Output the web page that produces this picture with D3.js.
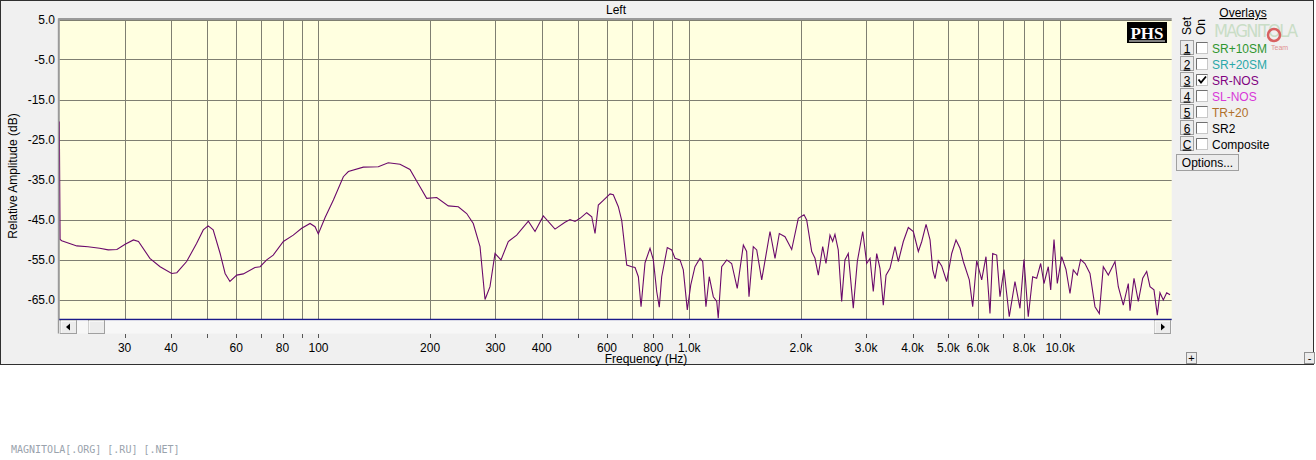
<!DOCTYPE html>
<html><head><meta charset="utf-8">
<script src="https://cdn.jsdelivr.net/npm/d3@7"></script>
<style>
html,body{margin:0;padding:0;background:#fff;}
svg{display:block;font-family:"Liberation Sans",Arial,sans-serif;}
</style></head>
<body>
<svg id="c" width="1316" height="460"></svg>
<script>
// ---------- data ----------
const freqHz = [20,20.1,20.3,22.3,23.9,25.7,27.1,28.6,30.1,31.7,32.7,35.1,37.4,40.2,41.5,44.1,46.9,48.9,50.4,52.0,54.3,56.0,57.7,60.2,62.7,67.4,69.6,72.5,75.5,80.4,85.5,90.1,94.9,97.9,99.9,104.2,109.7,116.7,120.4,132.1,145.0,154.2,165.9,176.5,187.8,195.8,208.4,223.9,238.3,251.0,261.5,272.7,281.3,290.1,299.3,310.6,325.0,342.4,368.1,383.7,404.0,434.4,462.2,476.8,491.9,507.4,529.0,545.8,557.0,568.5,586.4,611.4,623.9,643.7,657.5,678.2,699.6,714.1,728.9,741.2,759.8,783.7,799.9,816.9,830.1,842.6,872.4,896.6,915.2,944.1,963.6,987.8,1009,1036,1069,1087,1109,1132,1161,1186,1197,1223,1262,1301,1347,1399,1428,1449,1488,1520,1568,1651,1703,1749,1812,1889,1968,2039,2073,2139,2183,2228,2290,2337,2396,2436,2471,2522,2576,2629,2684,2769,2839,2936,3010,3072,3135,3202,3268,3336,3393,3478,3588,3662,3778,3897,4020,4147,4236,4351,4460,4535,4600,4694,4794,4946,5102,5240,5372,5483,5691,5812,5958,6146,6312,6471,6580,6746,6886,7058,7294,7557,7795,7991,8207,8435,8647,8865,9049,9294,9434,9630,9829,10101,10374,10634,10854,11127,11364,11672,12040,12421,12758,13079,13492,14065,14356,14808,15276,15438,15826,16254,16704,17124,17478,17917,18289,18598,18983,19388,19790];
const srNosDb = [-20.5,-50.0,-50.3,-51.6,-51.8,-52.2,-52.6,-52.5,-51.2,-50.1,-50.5,-54.7,-56.8,-58.5,-58.3,-55.5,-51.0,-47.6,-46.6,-47.6,-53.5,-58.5,-60.5,-58.9,-58.6,-57.0,-56.8,-55.1,-53.9,-50.5,-48.9,-47.2,-46.0,-46.8,-48.6,-44.5,-40.1,-34.3,-33.0,-31.9,-31.8,-30.8,-31.2,-32.5,-36.8,-39.7,-39.5,-41.6,-41.8,-43.5,-46.0,-51.8,-65.0,-61.8,-53.5,-55.1,-50.5,-48.9,-45.4,-48.0,-44.1,-47.4,-45.7,-45.0,-45.5,-44.7,-43.3,-44.3,-48.5,-41.4,-40.2,-38.6,-38.8,-41.8,-45.3,-56.4,-56.8,-57.0,-59.3,-66.8,-55.8,-52.2,-55.1,-63.0,-66.9,-59.3,-52.0,-52.6,-54.7,-55.1,-57.6,-67.6,-61.4,-56.8,-54.7,-55.5,-66.8,-59.3,-64.3,-65.5,-69.7,-56.8,-55.1,-56.0,-62.2,-51.4,-53.0,-64.3,-51.8,-52.6,-60.1,-48.0,-54.7,-48.5,-49.3,-52.5,-44.7,-43.8,-45.1,-53.0,-54.7,-58.9,-51.8,-56.0,-48.9,-50.5,-48.7,-52.6,-65.5,-55.1,-53.5,-67.2,-55.5,-48.0,-56.0,-54.7,-63.0,-53.5,-57.2,-66.4,-58.9,-57.2,-51.8,-55.5,-50.5,-47.0,-48.0,-53.0,-50.5,-46.2,-50.1,-57.6,-59.8,-55.3,-56.6,-60.5,-53.5,-50.1,-52.2,-55.5,-60.1,-66.8,-55.3,-60.1,-54.3,-68.5,-53.5,-53.9,-64.3,-57.5,-69.3,-60.5,-67.2,-55.0,-69.3,-59.3,-59.7,-56.0,-61.0,-56.8,-62.6,-50.0,-61.0,-54.3,-57.5,-63.5,-57.6,-58.9,-55.0,-56.0,-58.5,-66.8,-68.5,-56.8,-58.9,-55.5,-61.8,-66.4,-61.0,-67.8,-59.7,-65.5,-59.7,-58.0,-61.8,-62.6,-68.9,-63.3,-65.1,-63.3,-63.8];
const yTicks = [5,-5,-15,-25,-35,-45,-55,-65];
const xGrid = [30,40,50,60,70,80,90,100,200,300,400,500,600,700,800,900,1000,2000,3000,4000,5000,6000,7000,8000,9000,10000];
const xTickValues = [30,40,60,80,100,200,300,400,600,800,1000,2000,3000,4000,5000,6000,8000,10000];
const xTickLabels = ["30","40","60","80","100","200","300","400","600","800","1.0k","2.0k","3.0k","4.0k","5.0k","6.0k","8.0k","10.0k"];
const overlayNames = ["SR+10SM","SR+20SM","SR-NOS","SL-NOS","TR+20","SR2","Composite"];
const overlayKeys = ["1","2","3","4","5","6","C"];
const overlayColors = ["#2f962f","#2aa8a8","#800080","#d838d8","#b0702c","#000000","#000000"];
const overlayOn = [false,false,true,false,false,false,false];

// ---------- layout ----------
const svg = d3.select("#c");
const L = 59.3, R = 1171.7, T = 19.5, B = 319.5;
const x = d3.scaleLog().domain([20,20000]).range([L,R]);
const y = d3.scaleLinear().domain([-70,5]).range([B,T]);

// window panel
svg.append("rect").attr("x",0.5).attr("y",0.5).attr("width",1313).attr("height",364)
  .attr("fill","#f0f0f0").attr("stroke","#303030");

// plot background
svg.append("rect").attr("x",L).attr("y",T).attr("width",R-L).attr("height",B-T).attr("fill","#ffffe0");

// grid
const g = svg.append("g");
g.selectAll("line.v").data(xGrid).join("line")
  .attr("x1",d=>Math.round(x(d))+0.5).attr("x2",d=>Math.round(x(d))+0.5)
  .attr("y1",T).attr("y2",B).attr("stroke","#7f7f72").attr("stroke-width",1);
g.selectAll("line.h").data(yTicks).join("line")
  .attr("y1",d=>Math.round(y(d))+0.5).attr("y2",d=>Math.round(y(d))+0.5)
  .attr("x1",L).attr("x2",R).attr("stroke","#7f7f72").attr("stroke-width",1);

// frame: top/left gray thick, bottom blue
svg.append("line").attr("x1",L-1).attr("x2",R).attr("y1",T-0.5).attr("y2",T-0.5).attr("stroke","#9a9a9a").attr("stroke-width",2);
svg.append("line").attr("x1",L-0.5).attr("x2",L-0.5).attr("y1",T-1).attr("y2",B+14).attr("stroke","#9a9a9a").attr("stroke-width",2);

// curve
svg.append("clipPath").attr("id","clip").append("rect").attr("x",L).attr("y",T).attr("width",R-L).attr("height",B-T);
const pts = freqHz.map((f,i)=>[f,srNosDb[i]]);
svg.append("path").datum(pts).attr("clip-path","url(#clip)")
  .attr("d",d3.line().x(d=>x(d[0])).y(d=>y(d[1])))
  .attr("fill","none").attr("stroke","#6b0a6b").attr("stroke-width",1.1);

svg.append("line").attr("x1",L).attr("x2",R).attr("y1",B).attr("y2",B).attr("stroke","#1a1a8a").attr("stroke-width",1.3);

// scrollbar
svg.append("rect").attr("x",L).attr("y",B+1).attr("width",R-L).attr("height",13).attr("fill","#f7f7f7");
function button(bx,by,bw,bh){
  svg.append("rect").attr("x",bx).attr("y",by).attr("width",bw).attr("height",bh).attr("fill","#ececec").attr("stroke","#a0a0a0");
  svg.append("line").attr("x1",bx+0.5).attr("x2",bx+bw-0.5).attr("y1",by+0.5).attr("y2",by+0.5).attr("stroke","#fff");
  svg.append("line").attr("x1",bx+0.5).attr("x2",bx+0.5).attr("y1",by+0.5).attr("y2",by+bh-0.5).attr("stroke","#fff");
}
button(60.5,320.5,16,13);
svg.append("path").attr("d","M70,323.5 L66,327 L70,330.5Z").attr("fill","#000");
button(88.5,320.5,16,13);
button(1154.5,320.5,16,13);
svg.append("path").attr("d","M1161,323.5 L1165,327 L1161,330.5Z").attr("fill","#000");

// x ticks
svg.append("g").selectAll("line").data(xGrid).join("line")
  .attr("x1",d=>Math.round(x(d))+0.5).attr("x2",d=>Math.round(x(d))+0.5)
  .attr("y1",334).attr("y2",338).attr("stroke","#555");
svg.append("g").selectAll("text").data(xTickValues).join("text")
  .attr("x",d=>x(d)).attr("y",351.5).attr("text-anchor","middle")
  .attr("font-size",12).attr("fill","#000").text((d,i)=>xTickLabels[i]);
svg.append("text").attr("x",646).attr("y",363).attr("text-anchor","middle").attr("font-size",12).text("Frequency (Hz)");

// y ticks
svg.append("g").selectAll("text").data(yTicks).join("text")
  .attr("x",55).attr("y",d=>y(d)+4.5).attr("text-anchor","end")
  .attr("font-size",12).text(d=>d.toFixed(1));
svg.append("text").attr("transform","translate(17,176) rotate(-90)").attr("text-anchor","middle")
  .attr("font-size",12).text("Relative Amplitude (dB)");

// title
svg.append("text").attr("x",616).attr("y",14).attr("text-anchor","middle").attr("font-size",12).text("Left");

// PHS logo
svg.append("rect").attr("x",1127).attr("y",22).attr("width",40).attr("height",21).attr("fill","#000");
svg.append("text").attr("x",1147).attr("y",39).attr("text-anchor","middle")
  .attr("font-family","'Liberation Serif','DejaVu Serif',serif").attr("font-weight","bold")
  .attr("font-size",17).attr("fill","#fff").text("PHS");
svg.append("line").attr("x1",1129).attr("x2",1165).attr("y1",41).attr("y2",41).attr("stroke","#fff");

// faint magnitola logo
svg.append("text").attr("x",1214).attr("y",37).attr("font-size",18).attr("fill","#c9ddc6")
  .attr("font-family","'Liberation Sans Narrow','DejaVu Sans Condensed',sans-serif").attr("textLength",84).text("MAGNITOLA");
svg.append("circle").attr("cx",1274).attr("cy",35).attr("r",6).attr("fill","none").attr("stroke","#d86060").attr("stroke-width",2.5);
svg.append("text").attr("x",1271).attr("y",50).attr("font-size",7).attr("fill","#e09090").text("Team");

// legend
svg.append("text").attr("x",1243).attr("y",17).attr("text-anchor","middle").attr("font-size",12).attr("text-decoration","underline").text("Overlays");
svg.append("text").attr("transform","translate(1191,35) rotate(-90)").attr("font-size",12).text("Set");
svg.append("text").attr("transform","translate(1205,35) rotate(-90)").attr("font-size",12).text("On");

const rowY = overlayNames.map((d,i)=>48+i*16);
const leg = svg.append("g").selectAll("g").data(overlayNames).join("g")
  .attr("transform",(d,i)=>`translate(0,${rowY[i]})`);
leg.append("rect").attr("x",1180.5).attr("y",-7.5).attr("width",13).attr("height",14).attr("fill","#ececec").attr("stroke","#a0a0a0");
leg.append("text").attr("x",1187).attr("y",4.5).attr("text-anchor","middle").attr("font-size",12).attr("text-decoration","underline").text((d,i)=>overlayKeys[i]);
leg.append("rect").attr("x",1196.5).attr("y",-5.5).attr("width",11).attr("height",11).attr("fill","#fff").attr("stroke","#c8c8c8");
leg.append("path").attr("d","M1196.5,5.5 V-5.5 H1207.5").attr("fill","none").attr("stroke","#707070");
leg.filter((d,i)=>overlayOn[i]).append("path").attr("d","M1198.5,-0.5 L1201,2.5 L1206,-3.5").attr("fill","none").attr("stroke","#000").attr("stroke-width",1.8);
leg.append("text").attr("x",1212).attr("y",4.5).attr("font-size",12).attr("fill",(d,i)=>overlayColors[i]).text(d=>d);

// options button
svg.append("rect").attr("x",1176.5).attr("y",154.5).attr("width",62).attr("height",16).attr("fill","#ececec").attr("stroke","#a0a0a0");
svg.append("text").attr("x",1207.5).attr("y",167).attr("text-anchor","middle").attr("font-size",12).text("Options...");

// small +/- buttons
[[1186.5,"+"],[1304.5,"-"]].forEach(([bx,t])=>{
  svg.append("rect").attr("x",bx).attr("y",352.5).attr("width",10).attr("height",11).attr("fill","#ececec").attr("stroke","#909090");
  svg.append("text").attr("x",bx+5).attr("y",362).attr("text-anchor","middle").attr("font-size",11).text(t);
});

// watermark
svg.append("text").attr("x",11).attr("y",453).attr("font-size",10).attr("fill","#9aa3ad")
  .attr("font-family","'DejaVu Sans Mono',monospace").text("MAGNITOLA[.ORG] [.RU] [.NET]");
</script>
</body></html>
